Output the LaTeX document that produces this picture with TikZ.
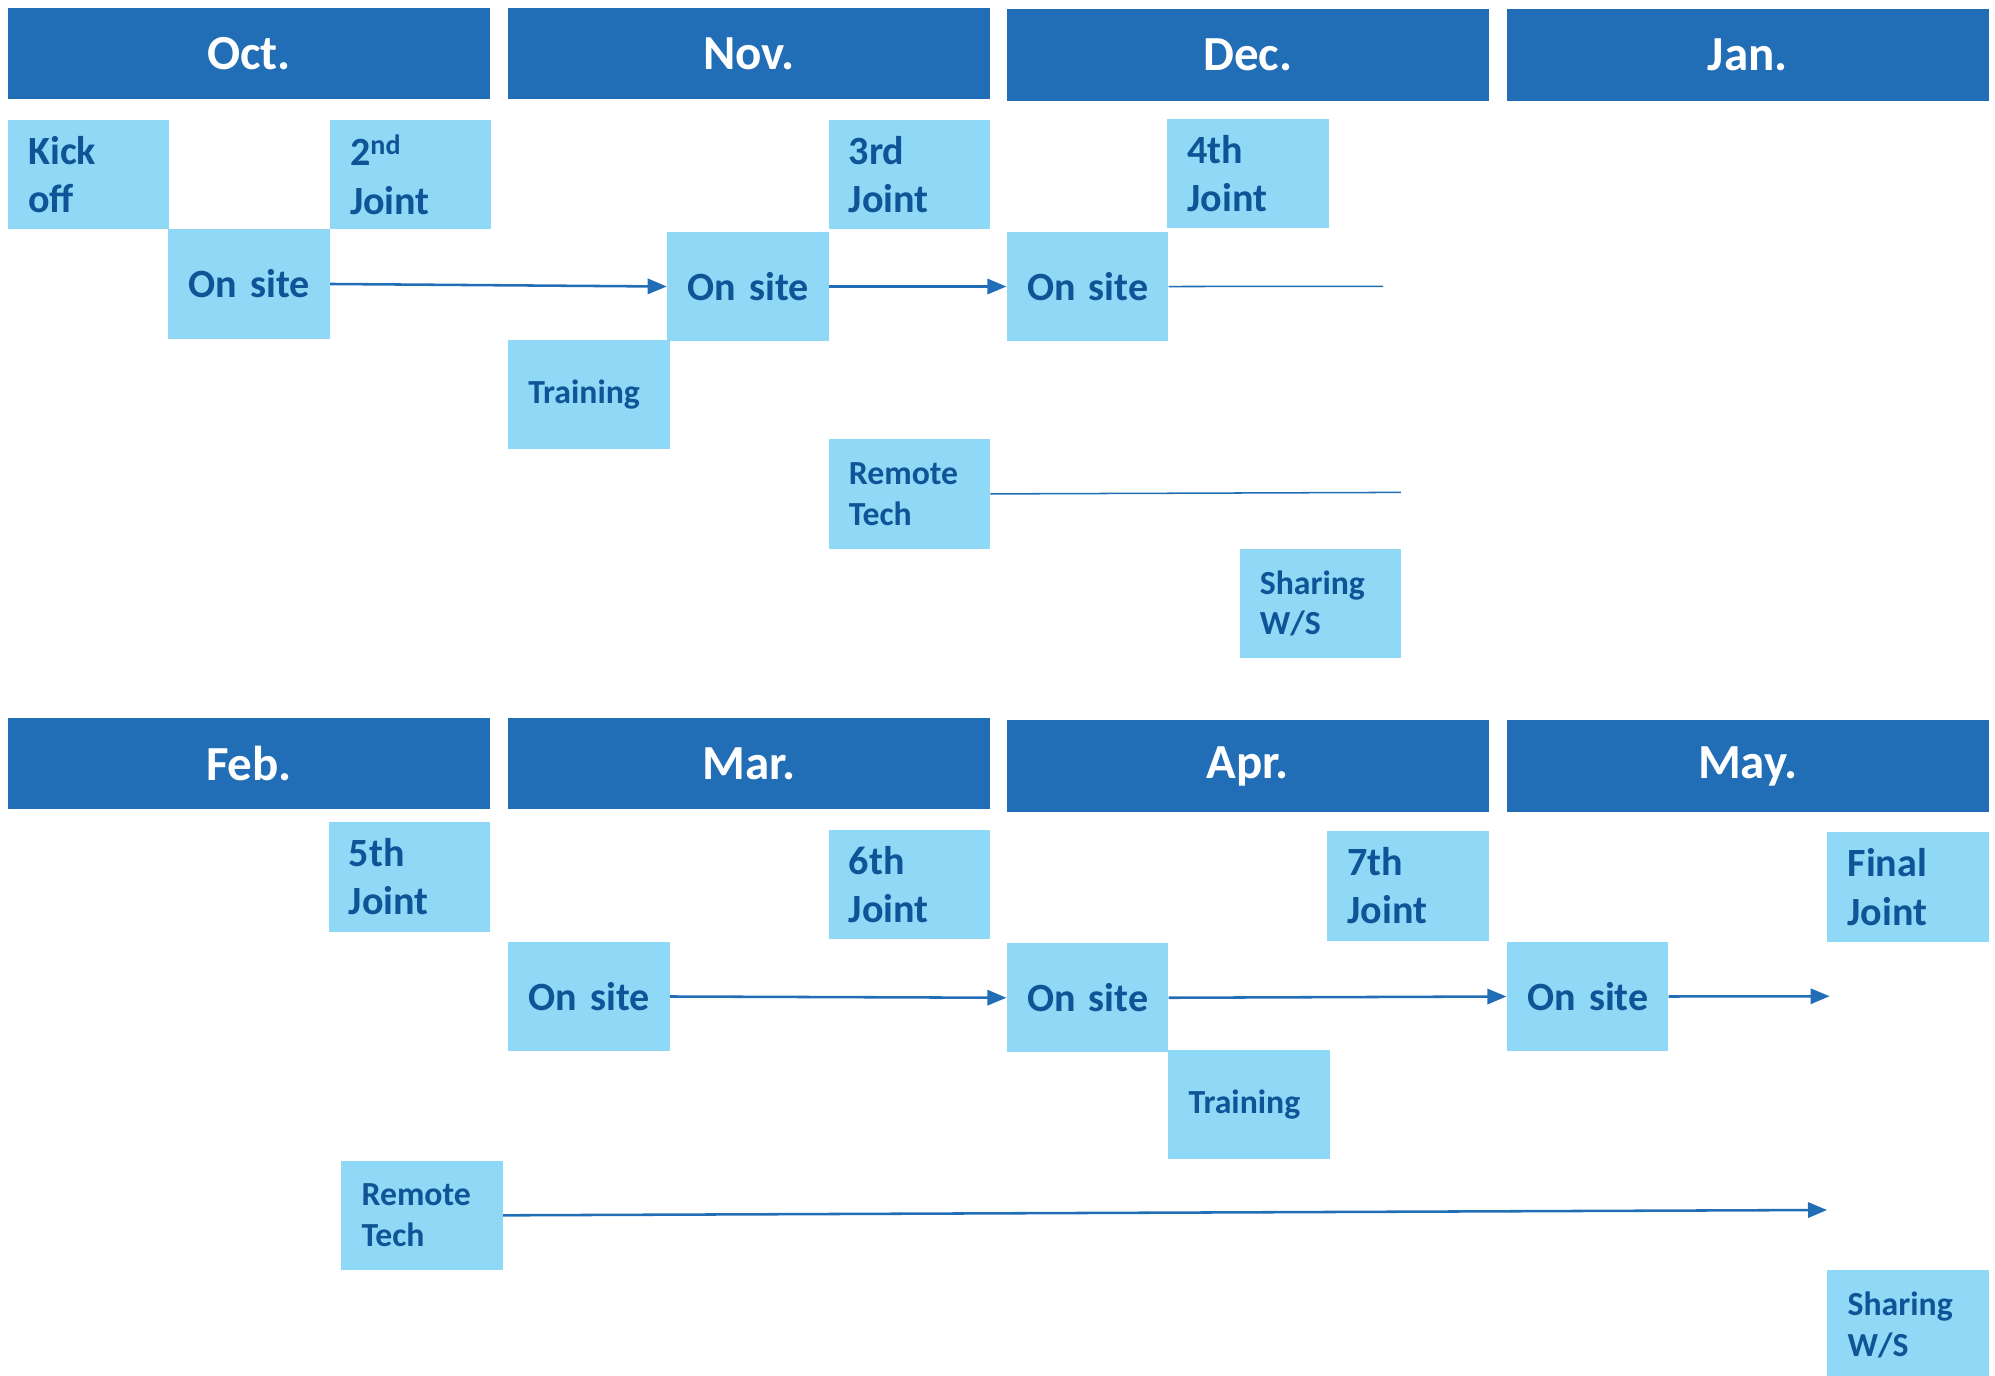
\documentclass[tikz,border=0pt]{standalone}
\usepackage{fontspec}
\setmainfont{Carlito}
\usetikzlibrary{arrows.meta}
\definecolor{hdrblue}{RGB}{34,110,182}
\definecolor{boxblue}{RGB}{143,216,246}
\definecolor{txtblue}{RGB}{14,84,150}
\tikzset{
  hdr/.style={fill=hdrblue, draw=none, anchor=north west, minimum width=379pt,
    minimum height=72pt, inner sep=0pt, text=white,
    font=\fontsize{38.5}{44}\selectfont\bfseries},
  task/.style={fill=boxblue, draw=none, anchor=north west, minimum height=86pt,
    text width=95pt, inner xsep=16pt, inner ysep=0pt, align=left, text=txtblue,
    font=\fontsize{31.5}{38}\selectfont\bfseries},
  small/.style={font=\fontsize{26.5}{32}\selectfont\bfseries},
  flow/.style={draw=hdrblue, line width=2pt, -{Triangle[length=15pt,width=12pt]}},
  tail/.style={draw=hdrblue, line width=1.2pt},
}
\begin{document}
\begin{tikzpicture}[x=1pt,y=-1pt]
\useasboundingbox (0,0) rectangle (1568,1081);

% month headers
\node[hdr] (oct) at (6,6) {Oct.};
\node[hdr] (nov) at (399,6) {Nov.};
\node[hdr] (dec) at (791,7) {Dec.};
\node[hdr] (jan) at (1184,7) {Jan.};
\node[hdr] (feb) at (6,564) {Feb.};
\node[hdr] (mar) at (399,564) {Mar.};
\node[hdr] (apr) at (791,566) {Apr.};
\node[hdr] (may) at (1184,566) {May.};

% first half
\node[task] (ko)  at (6,94)   {Kick\\off};
\node[task] (j2)  at (259,94) {2\textsuperscript{nd}\\Joint};
\node[task] (os1) at (132,180) {On~site};
\node[task] (os2) at (524,182) {On~site};
\node[task] (j3)  at (651,94)  {3rd\\Joint};
\node[task,small] (tr1) at (399,267) {Training};
\node[task] (os3) at (791,182) {On~site};
\node[task] (j4)  at (917,93)  {4th\\Joint};
\node[task,small] (rt1) at (651,345) {Remote\\Tech};
\node[task,small] (sw1) at (974,431) {Sharing\\W/S};

% second half
\node[task] (j5)  at (258,646) {5th\\Joint};
\node[task] (j6)  at (651,652) {6th\\Joint};
\node[task] (os4) at (399,740) {On~site};
\node[task] (os5) at (791,741) {On~site};
\node[task] (j7)  at (1043,653) {7th\\Joint};
\node[task,small] (tr2) at (918,825) {Training};
\node[task] (os6) at (1184,740) {On~site};
\node[task] (fj)  at (1436,654) {Final\\Joint};
\node[task,small] (rt2) at (268,912) {Remote\\Tech};
\node[task,small] (sw2) at (1436,998) {Sharing\\W/S};

% free line ends
\coordinate (e1) at (1087,225);
\coordinate (e2) at (1101,387);
\coordinate (e3) at (1438,783);
\coordinate (e4) at (1436,951);

% connectors
\draw[flow] (os1.east) -- (os2.west);
\draw[flow] (os2.east) -- (os3.west);
\draw[tail] (os3.east) -- (e1);
\draw[tail] (rt1.east) -- (e2);
\draw[flow] (os4.east) -- (os5.west);
\draw[flow] (os5.east) -- (os6.west);
\draw[flow] (os6.east) -- (e3);
\draw[flow] (rt2.east) -- (e4);
\end{tikzpicture}
\end{document}
